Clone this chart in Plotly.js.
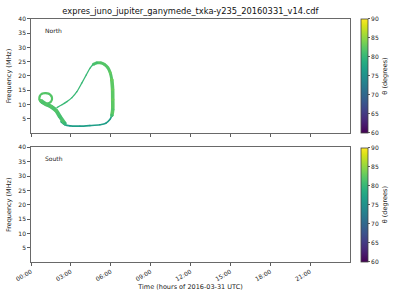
<!DOCTYPE html>
<html><head><meta charset="utf-8">
<script src="https://cdn.plot.ly/plotly-3.0.1.min.js"></script>
<style>html,body{margin:0;padding:0;background:#fff}#g{width:400px;height:300px}</style>
</head><body><div id="g"></div>
<script>
// ---- data (time in hours of 2016-03-31, frequency in MHz, theta in degrees)
const loopTime  = [1.80,1.50,1.13,0.83,0.64,0.66,0.83,1.09,1.35,1.54,1.58,1.46,1.24];
const loopFreq  = [8.5,9.4,10.1,10.6,11.7,12.9,13.8,14.0,13.8,12.9,11.8,10.8,10.3];
const loopTheta = [82,82,82,82,82,82,82,82,82,82,82,82,82];

const bandTime  = [0.75,1.13,1.50,1.90,2.18,2.55];
const bandFreq  = [11.3,10.1,9.3,7.8,5.7,3.3];
const bandTheta = [82,82,82,82,81,80];

const riseTime  = [1.95,2.33,2.70,3.08,3.45,3.83,4.16,4.43,4.69];
const riseFreq  = [8.9,9.9,11.0,12.4,14.5,17.6,20.4,22.7,24.1];
const riseTheta = [81,80,80,80,80,80,80,81,81];

const peakTime  = [4.69,4.95,5.25,5.51,5.78,5.96,6.08];
const peakFreq  = [24.1,24.6,24.6,24.1,22.9,21.1,18.7];
const peakTheta = [81,81,82,82,82,83,83];

const rightTime  = [6.08,6.14,6.15,6.15,6.08];
const rightFreq  = [18.7,15.2,11.7,8.2,6.1];
const rightTheta = [83,83,83,82,81];

const bottomTime  = [6.08,5.93,5.63,5.18,4.43,3.68,2.93,2.55,2.25];
const bottomFreq  = [6.1,4.7,3.4,2.9,2.6,2.4,2.5,2.9,4.0];
const bottomTheta = [78,77,76,76,76,76,76,77,79];

const southTime = [];
const southFreq = [];

const xTickVals = [0,3,6,9,12,15,18,21];
const xTickText = ['00:00','03:00','06:00','09:00','12:00','15:00','18:00','21:00'];
const yTickVals = [5,10,15,20,25,30,35,40];
const thetaRange = [60,90];

// ---- viridis helper for line colours
const VIR = [[0,'#440154'],[0.0627,'#48186a'],[0.1255,'#472d7b'],[0.1882,'#424086'],[0.2510,'#3b528b'],[0.3137,'#33638d'],[0.3765,'#2c728e'],[0.4392,'#26828e'],[0.5020,'#21918c'],[0.5647,'#1fa088'],[0.6275,'#28ae80'],[0.6902,'#3fbc73'],[0.7529,'#5ec962'],[0.8157,'#84d44b'],[0.8784,'#addc30'],[0.9412,'#d8e219'],[1,'#fde725']];
function hex(h){return [1,3,5].map(i=>parseInt(h.substr(i,2),16));}
function viridis(v){
  let t=(v-thetaRange[0])/(thetaRange[1]-thetaRange[0]); t=Math.max(0,Math.min(1,t));
  for(let i=1;i<VIR.length;i++){ if(t<=VIR[i][0]){ const a=hex(VIR[i-1][1]),b=hex(VIR[i][1]); const f=(t-VIR[i-1][0])/(VIR[i][0]-VIR[i-1][0]); const c=a.map((x,k)=>Math.round(x+(b[k]-x)*f)); return 'rgb('+c.join(',')+')'; } }
  return VIR[VIR.length-1][1];
}
function mean(a){return a.reduce((s,x)=>s+x,0)/a.length;}

function seg(x,y,th,w){
  return {type:'scatter',mode:'lines+markers',x:x,y:y,xaxis:'x',yaxis:'y',
    line:{color:viridis(mean(th)),width:w,shape:'spline',smoothing:0.8},
    marker:{color:th,coloraxis:'coloraxis',size:w*0.9,line:{width:0}},
    hoverinfo:'skip',showlegend:false};
}

const traces = [
  seg(riseTime,riseFreq,riseTheta,1.3),
  seg(bottomTime,bottomFreq,bottomTheta,1.6),
  seg(loopTime,loopFreq,loopTheta,2.2),
  seg(bandTime,bandFreq,bandTheta,4),
  seg(peakTime,peakFreq,peakTheta,3),
  seg(rightTime,rightFreq,rightTheta,3.6),
  // South hemisphere: no emission; an empty-position trace carries the colour scale
  {type:'scatter',mode:'markers',x:southTime.concat([null]),y:southFreq.concat([null]),xaxis:'x2',yaxis:'y2',
   marker:{color:[thetaRange[0]],coloraxis:'coloraxis2'},hoverinfo:'skip',showlegend:false}
];

const FONT = 'DejaVu Sans, sans-serif';
function xax(anchor, showLabels){
  return {domain:[0.0775,0.875],anchor:anchor,range:[0,24],tickmode:'array',tickvals:xTickVals,
    ticktext:xTickText,showticklabels:showLabels,tickangle:-30,ticks:'outside',ticklen:3,tickwidth:0.8,
    tickcolor:'#333',showline:true,linecolor:'#444',linewidth:0.8,mirror:true,showgrid:false,zeroline:false,
    tickfont:{family:FONT,size:6,color:'#222'}};
}
function yax(domain, anchor){
  return {domain:domain,anchor:anchor,range:[0,40],tickmode:'array',tickvals:yTickVals,
    ticks:'outside',ticklen:3,tickwidth:0.8,tickcolor:'#333',showline:true,linecolor:'#444',linewidth:0.8,
    mirror:true,showgrid:false,zeroline:false,tickfont:{family:FONT,size:6,color:'#222'},
    title:{text:'Frequency (MHz)',font:{family:FONT,size:6.5,color:'#222'},standoff:5}};
}
function cbar(yc){
  return {title:{text:'θ (degrees)',side:'right',font:{family:FONT,size:6.5,color:'#222'}},
    x:0.9025,xanchor:'left',y:yc,yanchor:'middle',len:114,lenmode:'pixels',thickness:7,thicknessmode:'pixels',
    outlinewidth:0.8,outlinecolor:'#444',ticks:'outside',ticklen:2,tickwidth:0.8,tickcolor:'#333',
    tickvals:[60,65,70,75,80,85,90],tickfont:{family:FONT,size:6,color:'#222'},xpad:0,ypad:0};
}

const layout = {
  width:400,height:300,margin:{l:0,r:0,t:0,b:0},paper_bgcolor:'#fff',plot_bgcolor:'#fff',
  font:{family:FONT,color:'#222'},
  title:{text:'expres_juno_jupiter_ganymede_txka-y235_20160331_v14.cdf',font:{family:FONT,size:8.3,color:'#111'},
    x:0.476,xanchor:'center',y:0.962,yanchor:'middle'},
  xaxis:xax('y',false),
  yaxis:yax([0.5567,0.9367],'x'),
  xaxis2:Object.assign(xax('y2',true),{title:{text:'Time (hours of 2016-03-31 UTC)',font:{family:FONT,size:6.5,color:'#222'},standoff:2}}),
  yaxis2:yax([0.1257,0.509],'x2'),
  coloraxis:{colorscale:'Viridis',cmin:thetaRange[0],cmax:thetaRange[1],colorbar:cbar(0.7467)},
  coloraxis2:{colorscale:'Viridis',cmin:thetaRange[0],cmax:thetaRange[1],colorbar:cbar(0.318)},
  annotations:[
    {text:'North',xref:'x domain',yref:'y domain',x:0.038,y:0.9,xanchor:'left',yanchor:'middle',showarrow:false,font:{family:FONT,size:6,color:'#222'}},
    {text:'South',xref:'x2 domain',yref:'y2 domain',x:0.038,y:0.9,xanchor:'left',yanchor:'middle',showarrow:false,font:{family:FONT,size:6,color:'#222'}}
  ]
};
Plotly.newPlot('g',traces,layout,{staticPlot:true,displayModeBar:false});
</script></body></html>
